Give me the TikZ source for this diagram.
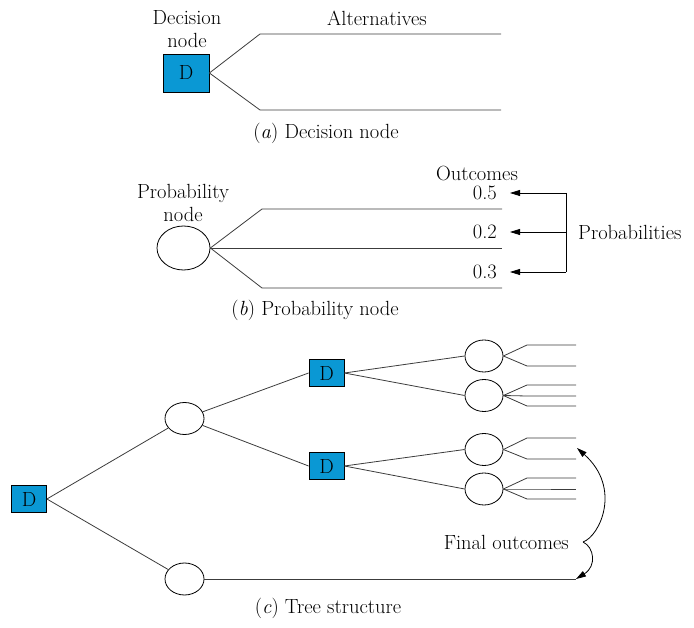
\documentclass[tikz,border=0pt]{standalone}
\usepackage{xcolor}
\usepackage{tikz}
\usetikzlibrary{arrows.meta, shapes.geometric}
\definecolor{decblue}{RGB}{10,152,212}
\definecolor{edgegray}{RGB}{60,60,60}

\begin{document}
\begin{tikzpicture}[x=1pt, y=-1pt,
  >={Triangle[length=10pt, width=6pt]},
  every node/.style={font=\fontsize{20.5}{23}\selectfont},
  dec/.style={draw=black, fill=decblue, minimum width=35pt, minimum height=27pt, inner sep=0pt, line width=0.8pt},
  chance/.style={draw=black, ellipse, minimum width=39pt, minimum height=32pt, inner sep=0pt, line width=0.8pt},
  ed/.style={edgegray, line width=0.8pt},
  arr/.style={->, black, line width=0.8pt},
  lbl/.style={align=center, inner sep=0pt}
]
\useasboundingbox (0,0) rectangle (694,628);
% (a) decision node
\node[lbl] (declab) at (187,29) {Decision\\node};
\node[dec, minimum width=46pt, minimum height=38pt] (da) at (186,73) {D};
\node[lbl] (altlab) at (377,18) {Alternatives};
\coordinate (alt1) at (501,34);
\coordinate (alt2) at (501,110);
\foreach \k in {1,2}
  \draw[ed] (da.east) -- ([xshift=-241pt]alt\k) -- (alt\k);
\node[lbl] (capa) at (326,133) {(\textit{a}) Decision node};
% (b) probability node
\node[lbl] (problab) at (183,203) {Probability\\node};
\node[chance, minimum width=53pt, minimum height=44pt] (pb) at (183.5,248) {};
\foreach \k/\y in {1/209, 2/248, 3/288}
  \coordinate (o\k) at (502,\y);
\draw[ed] (pb.east) -- ([xshift=-240pt]o1) -- (o1);
\draw[ed] (pb.east) -- (o2);
\draw[ed] (pb.east) -- ([xshift=-240pt]o3) -- (o3);
\node[lbl] (outlab) at (477,174) {Outcomes};
\foreach \k/\p/\y in {1/0.5/193, 2/0.2/232, 3/0.3/272} {
  \node[lbl, anchor=east] (p\k) at (497,\y) {\p};
  \coordinate (v\k) at (566,\y);
  \draw[arr] (v\k) -- ([xshift=13pt]p\k.east);
}
\draw[black, line width=0.8pt] (v1) -- (v3);
\node[lbl, anchor=west] (problabs) at (578,232) {Probabilities};
\node[lbl] (capb) at (315,310) {(\textit{b}) Probability node};
% (c) tree structure
\node[dec] (d0) at (29,499) {D};
\node[chance] (c1) at (184.5,418.5) {};
\node[chance] (c2) at (184.5,579) {};
\node[dec] (d1) at (326.5,373) {D};
\node[dec] (d2) at (326.5,466) {D};
\foreach \k/\y in {1/356, 2/395.5, 3/449.5, 4/489}
  \node[chance, minimum width=38pt] (t\k) at (484,\y) {};
\draw[ed] (d0.east) -- (c1);
\draw[ed] (d0.east) -- (c2);
\draw[ed] (c1) -- (d1.west);
\draw[ed] (c1) -- (d2.west);
\foreach \a/\b in {d1/t1, d1/t2, d2/t3, d2/t4}
  \draw[ed] (\a.east) -- (\b.west);
\foreach \k/\y in {1a/345, 1b/366, 2a/385, 2b/396, 2c/406,
                   3a/438, 3b/459, 4a/478, 4b/489, 4c/499}
  \coordinate (e\k) at (576,\y);
\foreach \t/\e in {1/1a, 1/1b, 2/2a, 2/2b, 2/2c, 3/3a, 3/3b, 4/4a, 4/4b, 4/4c}
  \draw[ed] (t\t.east) -- ([xshift=-49pt]e\e) -- (e\e);
\coordinate (e5) at (576,579);
\draw[ed] (c2.east) -- (e5);
\node[lbl, anchor=east] (fin) at (569,542) {Final outcomes};
\coordinate (br) at (583,542);
\coordinate (fo1) at (577,448);
\draw[arr] (br) .. controls (600,536) and (622,488) .. (fo1);
\draw[arr] (br) .. controls (594,547) and (597,566) .. (e5);
\node[lbl] (capc) at (328,608) {(\textit{c}) Tree structure};
\end{tikzpicture}
\end{document}
